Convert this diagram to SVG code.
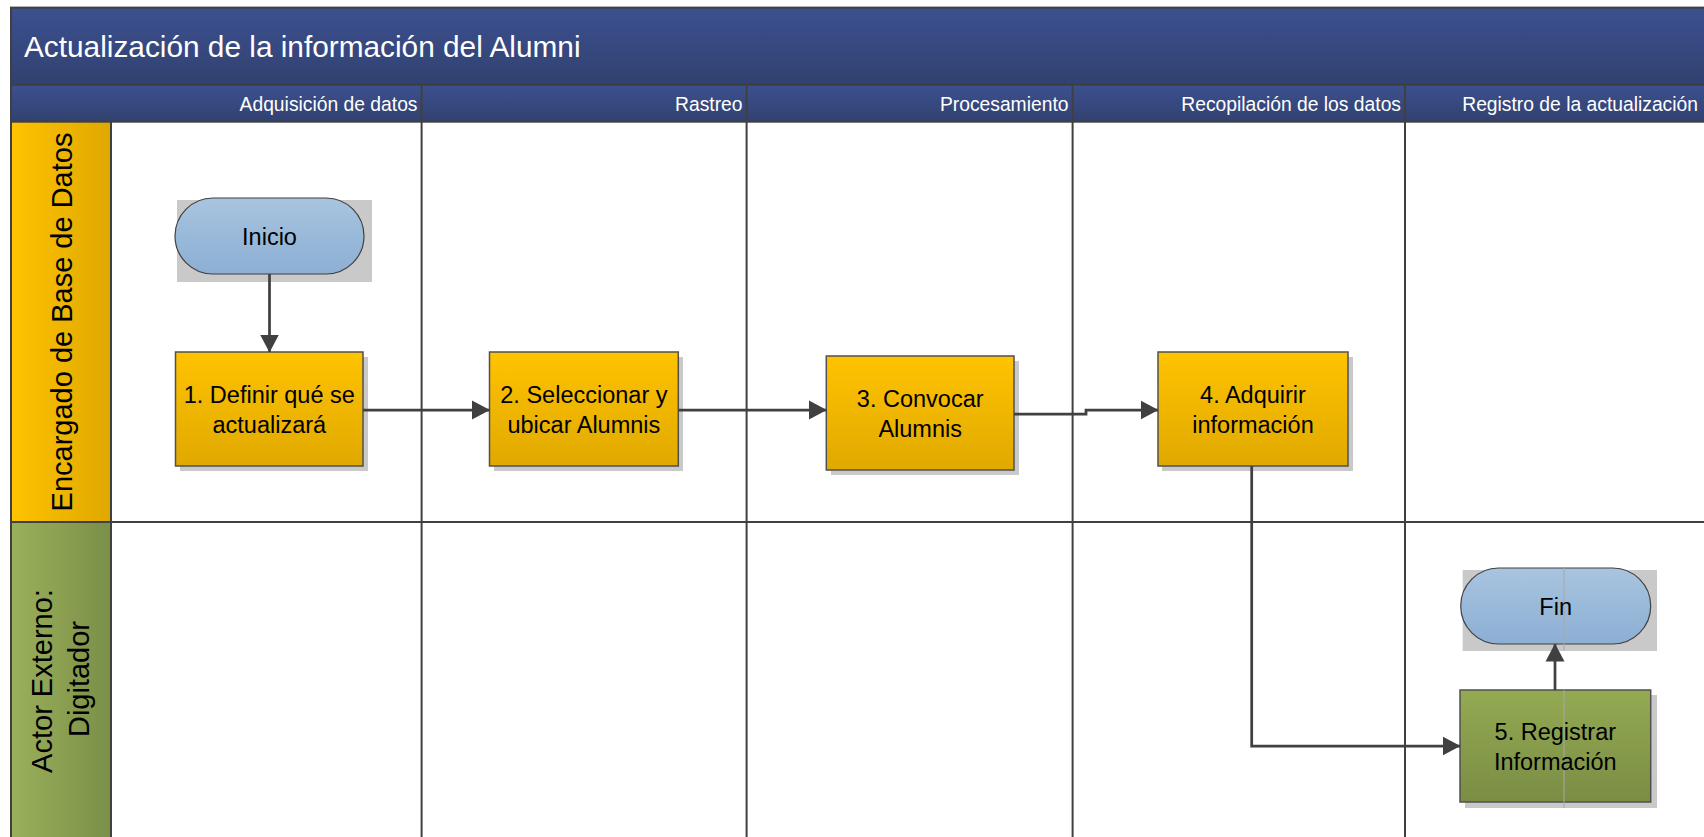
<svg xmlns="http://www.w3.org/2000/svg" width="1704" height="837" viewBox="0 0 1704 837">
  <defs>
    <linearGradient id="gBlue" x1="0" y1="0" x2="0" y2="1">
      <stop offset="0" stop-color="#3D5090"/>
      <stop offset="1" stop-color="#31416F"/>
    </linearGradient>
    <linearGradient id="gLaneOrange" x1="0" y1="0" x2="1" y2="0">
      <stop offset="0" stop-color="#FFC300"/>
      <stop offset="1" stop-color="#DFA800"/>
    </linearGradient>
    <linearGradient id="gLaneGreen" x1="0" y1="0" x2="1" y2="0">
      <stop offset="0" stop-color="#9BB05A"/>
      <stop offset="1" stop-color="#7A8F48"/>
    </linearGradient>
    <linearGradient id="gOrange" x1="0" y1="0" x2="0" y2="1">
      <stop offset="0" stop-color="#FFC300"/>
      <stop offset="1" stop-color="#E0A900"/>
    </linearGradient>
    <linearGradient id="gGreen" x1="0" y1="0" x2="0" y2="1">
      <stop offset="0" stop-color="#94AA52"/>
      <stop offset="1" stop-color="#7A8D45"/>
    </linearGradient>
    <linearGradient id="gTerm" x1="0" y1="0" x2="0" y2="1">
      <stop offset="0" stop-color="#A8C4DF"/>
      <stop offset="1" stop-color="#8CAFD4"/>
    </linearGradient>
    <marker id="arrow" markerUnits="userSpaceOnUse" markerWidth="18" markerHeight="20" viewBox="0 0 18 20" refX="17.5" refY="10" orient="auto">
      <path d="M0,0.5 L18,10 L0,19.5 Z" fill="#404040"/>
    </marker>
    <style>
      .grid { stroke: #404040; stroke-width: 2; fill: none; }
      .hdr { fill: url(#gBlue); stroke: #404040; stroke-width: 2; }
      .title { font-family: "Liberation Sans", Arial, sans-serif; font-size: 29.8px; fill: #FFFFFF; }
      .phase { font-family: "Liberation Sans", Arial, sans-serif; font-size: 19.3px; fill: #FFFFFF; text-anchor: end; }
      .lane { font-family: "Liberation Sans", Arial, sans-serif; font-size: 29px; fill: #000000; text-anchor: middle; }
      .lbl { font-family: "Liberation Sans", Arial, sans-serif; font-size: 23.5px; fill: #000000; text-anchor: middle; }
      .shadow { fill: #C9C9C9; }
      .box { fill: url(#gOrange); stroke: #505050; stroke-width: 1.5; }
      .boxg { fill: url(#gGreen); stroke: #505050; stroke-width: 1.5; }
      .term { fill: url(#gTerm); stroke: #404040; stroke-width: 1.2; }
      .conn { stroke: #404040; stroke-width: 2.75; fill: none; marker-end: url(#arrow); }
      .pb { stroke: #A8A8A8; stroke-width: 1; }
    </style>
  </defs>

  <g id="pool">
    <rect x="0" y="0" width="1704" height="837" fill="#FFFFFF"/>
    <rect class="hdr" x="11" y="7.6" width="1700" height="77.2"/>
    <text class="title" x="24" y="57">Actualización de la información del Alumni</text>
    <rect class="hdr" x="11" y="84.8" width="1700" height="36.9"/>
    <rect x="11" y="121.7" width="100" height="400.3" fill="url(#gLaneOrange)" stroke="#404040" stroke-width="2"/>
    <rect x="11" y="522" width="100" height="330" fill="url(#gLaneGreen)" stroke="#404040" stroke-width="2"/>
    <line class="grid" x1="111" y1="522" x2="1704" y2="522"/>
    <line class="grid" x1="421.6" y1="84.8" x2="421.6" y2="837"/>
    <line class="grid" x1="746.6" y1="84.8" x2="746.6" y2="837"/>
    <line class="grid" x1="1072.6" y1="84.8" x2="1072.6" y2="837"/>
    <line class="grid" x1="1405" y1="84.8" x2="1405" y2="837"/>
  </g>

  <g id="phases">
    <text class="phase" x="417.5" y="110.5">Adquisición de datos</text>
    <text class="phase" x="742.5" y="110.5">Rastreo</text>
    <text class="phase" x="1068.5" y="110.5">Procesamiento</text>
    <text class="phase" x="1401" y="110.5">Recopilación de los datos</text>
    <text class="phase" x="1698" y="110.5">Registro de la actualización</text>
  </g>

  <g id="lane-encargado">
    <text class="lane" font-size="27.2" transform="translate(72,322) rotate(-90)">Encargado de Base de Datos</text>
  </g>
  <g id="lane-actor">
    <text class="lane" transform="translate(52,681) rotate(-90)">Actor Externo:</text>
    <text class="lane" transform="translate(89,679) rotate(-90)">Digitador</text>
  </g>

  <g id="node-inicio">
    <rect class="shadow" x="177" y="200" width="195" height="82"/>
    <rect class="term" x="175" y="198" width="189" height="76" rx="38" ry="38"/>
    <text class="lbl" x="269.5" y="244.5">Inicio</text>
  </g>

  <g id="node-1">
    <rect class="shadow" x="180" y="357" width="188" height="114"/>
    <rect class="box" x="175.5" y="352" width="187.5" height="114"/>
    <text class="lbl" x="269.3" y="402.5">1. Definir qué se</text>
    <text class="lbl" x="269.3" y="432.5">actualizará</text>
  </g>

  <g id="node-2">
    <rect class="shadow" x="494" y="357" width="189" height="114"/>
    <rect class="box" x="489.5" y="352" width="188.8" height="114"/>
    <text class="lbl" x="583.9" y="402.5">2. Seleccionar y</text>
    <text class="lbl" x="583.9" y="432.5">ubicar Alumnis</text>
  </g>

  <g id="node-3">
    <rect class="shadow" x="831" y="361" width="188" height="114"/>
    <rect class="box" x="826.3" y="356" width="187.7" height="114"/>
    <text class="lbl" x="920.2" y="406.5">3. Convocar</text>
    <text class="lbl" x="920.2" y="436.5">Alumnis</text>
  </g>

  <g id="node-4">
    <rect class="shadow" x="1162" y="357" width="191" height="114"/>
    <rect class="box" x="1158" y="352" width="190" height="114"/>
    <text class="lbl" x="1253" y="402.5">4. Adquirir</text>
    <text class="lbl" x="1253" y="432.5">información</text>
  </g>

  <g id="node-fin">
    <rect class="shadow" x="1462.7" y="570" width="194.3" height="81"/>
    <rect class="term" x="1460.7" y="568" width="190" height="76" rx="38" ry="38"/>
    <line class="pb" x1="1564" y1="568" x2="1564" y2="651"/>
    <text class="lbl" x="1555.7" y="614.5">Fin</text>
  </g>

  <g id="node-5">
    <rect class="shadow" x="1465" y="695" width="192" height="113"/>
    <rect class="boxg" x="1460" y="690" width="190.7" height="112"/>
    <line class="pb" x1="1564" y1="690" x2="1564" y2="808"/>
    <text class="lbl" x="1555.3" y="739.5">5. Registrar</text>
    <text class="lbl" x="1555.3" y="769.5">Información</text>
  </g>

  <g id="connectors">
    <path class="conn" d="M269.5,274 V352"/>
    <path class="conn" d="M363,410 H489.5"/>
    <path class="conn" d="M678.3,410 H826.3"/>
    <path class="conn" d="M1014,414 H1086 V410 H1158"/>
    <path class="conn" d="M1251.7,466 V746 H1460"/>
    <path class="conn" d="M1555,690 V644"/>
  </g>
</svg>
